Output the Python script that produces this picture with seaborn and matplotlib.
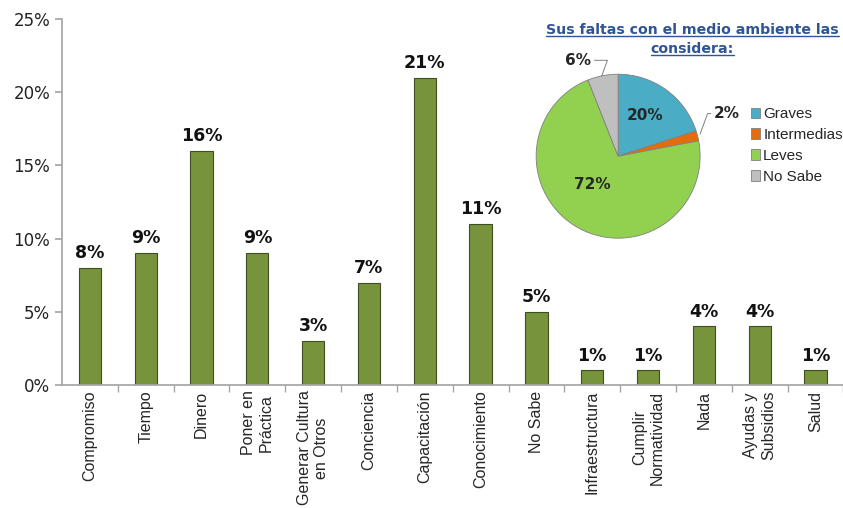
import matplotlib

matplotlib.use("Agg")
import matplotlib.pyplot as plt
import numpy as np
import pandas as pd
import seaborn as sns
from matplotlib.ticker import FixedLocator, PercentFormatter

sns.set_theme(style="white")
plt.rcParams["font.family"] = ["DejaVu Sans"]

categories = [
    "Compromiso", "Tiempo", "Dinero", "Poner en\nPráctica", "Generar Cultura\nen Otros",
    "Conciencia", "Capacitación", "Conocimiento", "No Sabe", "Infraestructura",
    "Cumplir\nNormatividad", "Nada", "Ayudas y\nSubsidios", "Salud",
]
values = [8, 9, 16, 9, 3, 7, 21, 11, 5, 1, 1, 4, 4, 1]

pie_labels = ["Graves", "Intermedias", "Leves", "No Sabe"]
pie_values = [20, 2, 72, 6]
pie_colors = ["#4BACC6", "#E46C0A", "#92D050", "#BFBFBF"]

df = pd.DataFrame({"cat": categories, "pct": values})

fig = plt.figure(figsize=(8.43, 5.08), dpi=100)
ax = fig.add_axes([0.0735, 0.242, 0.927, 0.7206])
sns.barplot(data=df, x="cat", y="pct", color="#77933C", width=0.4,
            edgecolor="#3F4F1F", linewidth=0.8, saturation=1, ax=ax)
ax.set_xlim(-0.5, len(categories) - 0.5)
ax.set_ylim(0, 25)
ax.set_yticks([0, 5, 10, 15, 20, 25])
ax.yaxis.set_major_formatter(PercentFormatter(decimals=0))
ax.set_xlabel("")
ax.set_ylabel("")
for s in ["top", "right"]:
    ax.spines[s].set_visible(False)
for s in ["left", "bottom"]:
    ax.spines[s].set_color("#A6A6A6")
ax.tick_params(axis="y", which="major", left=True, length=5, color="#A6A6A6",
               labelsize=12, labelcolor="#222222")
ax.tick_params(axis="x", which="major", bottom=False, length=0, pad=4)
ax.xaxis.set_minor_locator(FixedLocator(np.arange(len(categories)) + 0.5))
ax.tick_params(axis="x", which="minor", bottom=True, length=5, color="#A6A6A6")
for lab in ax.get_xticklabels():
    lab.set_rotation(90)
    lab.set_family("Liberation Sans")
    lab.set_fontsize(11.5)
    lab.set_ha("center")
    lab.set_va("top")
    lab.set_multialignment("center")
for i, v in enumerate(values):
    ax.text(i, v + 0.4, f"{v}%", ha="center", va="bottom", fontsize=12.5,
            fontweight="bold", color="#111111")

# inset pie
pax = fig.add_axes([0.636, 0.531, 0.1945, 0.323])
wedges, _ = pax.pie(pie_values, colors=pie_colors, startangle=90, counterclock=False,
                    wedgeprops=dict(edgecolor="#808080", linewidth=0.6))
pax.set_xlim(-1.0, 1.0)
pax.set_ylim(-1.0, 1.0)
pax.set_aspect("equal")
pax.text(0.33, 0.5, "20%", ha="center", va="center", fontsize=11, fontweight="bold")
pax.text(-0.32, -0.34, "72%", ha="center", va="center", fontsize=11, fontweight="bold")
pax.annotate("2%", xy=(1.0, 0.27), xytext=(1.17, 0.52), fontsize=11, fontweight="bold",
             ha="left", va="center", annotation_clip=False,
             arrowprops=dict(arrowstyle="-", color="#808080", lw=0.7, shrinkA=0, shrinkB=0,
                             connectionstyle="angle,angleA=0,angleB=70,rad=0"))
pax.annotate("6%", xy=(-0.2, 0.98), xytext=(-0.33, 1.17), fontsize=11, fontweight="bold",
             ha="right", va="center", annotation_clip=False,
             arrowprops=dict(arrowstyle="-", color="#808080", lw=0.7, shrinkA=0, shrinkB=0,
                             connectionstyle="angle,angleA=0,angleB=70,rad=0"))
leg = pax.legend(wedges, pie_labels, loc="center left", bbox_to_anchor=(1.31, 0.565),
                 frameon=False, handlelength=0.6, handleheight=0.7, handletextpad=0.2,
                 labelspacing=0.45, borderaxespad=0, borderpad=0,
                 prop={"family": "Liberation Sans", "size": 11})
t1 = fig.text(0.8215, 0.94, "Sus faltas con el medio ambiente las", ha="center", va="center",
              fontsize=10.2, fontweight="bold", color="#2F5597", family="DejaVu Sans")
t2 = fig.text(0.8215, 0.903, "considera:", ha="center", va="center",
              fontsize=10.2, fontweight="bold", color="#2F5597", family="DejaVu Sans")

# underline the title lines
fig.canvas.draw()
inv = fig.transFigure.inverted()
for t in (t1, t2):
    bb = t.get_window_extent().transformed(inv)
    fig.add_artist(plt.Line2D([bb.x0, bb.x1], [bb.y0 + 0.002, bb.y0 + 0.002],
                              color="#2F5597", lw=1))

fig.savefig("out.png", dpi=100)
